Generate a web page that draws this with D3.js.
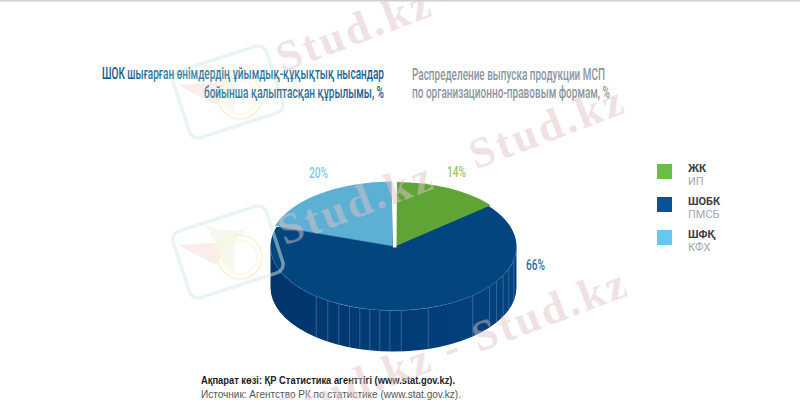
<!DOCTYPE html>
<html><head><meta charset="utf-8">
<script src="https://cdn.jsdelivr.net/npm/d3@7"></script>
<style>html,body{margin:0;padding:0;background:#fff}svg{display:block}</style>
</head><body><svg id="c" width="800" height="400"></svg>
<script>
const sharesKz = ["ЖК","ШОБК","ШФҚ"];
const sharesRu = ["ИП","ПМСБ","КФХ"];
const values = [14,66,20];
const valueLabels = ["14%","66%","20%"];
const topColors = ["#5fa536","#03457f","#5cb0d3"];
const labelColors = ["#9cc865","#2f6ea3","#7ccbea"];
const legendColors = ["#6cbd45","#0a5199","#67c8ee"];
const ribAngles = [218.9,212.3,206.4,201,195.9,191.1,186.4,181.7,176.4,163.6,139.9,128.7,123.2,116.9,110.4,102];
const titleKz = ["ШОК шығарған өнімдердің ұйымдық-құқықтық нысандар","бойынша қалыптасқан құрылымы, %"];
const titleRu = ["Распределение выпуска продукции МСП","по организационно-правовым формам, %"];
const sourceKz = "Ақпарат көзі: ҚР Статистика агенттігі (www.stat.gov.kz).";
const sourceRu = "Источник: Агентство РК по статистике (www.stat.gov.kz).";
const watermarks = ["Stud.kz - Stud.kz","Stud.kz","Stud.kz","Stud.kz - Stud.kz"];

const svg = d3.select("#c");
svg.append("rect").attr("width",800).attr("height",1.5).attr("fill","#cfcfcf");

const defs = svg.append("defs");
const g1 = defs.append("linearGradient").attr("id","side");
g1.append("stop").attr("offset","0").attr("stop-color","#02356a");
g1.append("stop").attr("offset","0.45").attr("stop-color","#023b76");
g1.append("stop").attr("offset","1").attr("stop-color","#03427e");
const g2 = defs.append("linearGradient").attr("id","titleGrad").attr("gradientUnits","userSpaceOnUse")
  .attr("x1",102).attr("x2",384).attr("y1",0).attr("y2",0);
[["0","#0f5289"],["0.3","#3f86aa"],["0.55","#35799f"],["1","#165b90"]].forEach(s=>g2.append("stop").attr("offset",s[0]).attr("stop-color",s[1]));

// pie
const cx=393.5, cy=246.5, rx=123, ry=64, depth=41;
const pie = d3.pie().sort(null).value(d=>d)(values);
const arc = d3.arc().innerRadius(0).outerRadius(rx);
const yr = ry/rx;
const pt = (deg,dy=0)=>{const a=deg*Math.PI/180;return [cx+rx*Math.sin(a),cy-ry*Math.cos(a)+dy]};

const sideStr = `M${cx+rx},${cy}L${cx+rx},${cy+depth}A${rx},${ry} 0 0 1 ${cx-rx},${cy+depth}L${cx-rx},${cy}A${rx},${ry} 0 0 0 ${cx+rx},${cy}Z`;
svg.append("path").attr("d",sideStr).attr("fill","url(#side)");
svg.append("g").selectAll("line").data(ribAngles).join("line")
  .attr("x1",d=>pt(d)[0]).attr("y1",d=>pt(d)[1])
  .attr("x2",d=>pt(d,depth)[0]).attr("y2",d=>pt(d,depth)[1])
  .attr("stroke","#5f8db8").attr("stroke-width",0.7).attr("opacity",0.75);

const face = svg.append("g").attr("transform",`translate(${cx},${cy}) scale(1,${yr})`);
face.append("path").attr("d",arc(pie[2])).attr("fill","#3f8cae").attr("transform",`translate(0,${3.5/yr})`);
face.append("path").attr("d",arc(pie[0])).attr("fill","#4f8f2c").attr("transform",`translate(0,${2.5/yr})`);
face.append("path").attr("d",arc(pie[1])).attr("fill",topColors[1]);
const lift=[[2.5,-0.5],[0,0],[-1.5,-1]];
[0,2].forEach(i=>{
  face.append("path").attr("d",arc(pie[i])).attr("fill",topColors[i])
    .attr("transform",`translate(${lift[i][0]},${lift[i][1]/yr})`);
});
svg.append("path").attr("d",`M${cx-2},${cy-ry-2}L${cx+3.5},${cy-ry-2}L${cx+3},${cy+1}L${cx-0.5},${cy+1}Z`).attr("fill","#fff");
svg.append("path").attr("d",`M${cx+rx},${cy}A${rx},${ry} 0 0 1 ${cx-rx},${cy}`).attr("fill","none").attr("stroke","#4d7fae").attr("stroke-width",0.6).attr("opacity",0.6);

// watermark logos, laid over the pie's left edge
const logoAt=[[228,92],[228,252]];
logoAt.forEach(p=>{
  const g=svg.append("g").attr("transform",`translate(${p[0]},${p[1]})`).attr("opacity",0.5);
  g.append("rect").attr("x",-49).attr("y",-35).attr("width",98).attr("height",70).attr("rx",9).attr("fill","none").attr("stroke","#d3ece4").attr("stroke-width",3.5).attr("transform","rotate(-18)");
  g.append("path").attr("d","M-50,-7L4,-10L-12,13Z").attr("fill","#f8ddd4");
  g.append("path").attr("d","M-23,-28C-8,-20 8,-22 18,-22C6,-16 4,-4 8,22C-6,12 -12,-10 -23,-28Z").attr("fill","#f0f3dd");
  g.append("circle").attr("cx",12).attr("cy",5).attr("r",22).attr("fill","none").attr("stroke","#efeca0").attr("stroke-width",1.6);
  g.append("circle").attr("cx",12).attr("cy",5).attr("r",17).attr("fill","none").attr("stroke","#f4f1bd").attr("stroke-width",1.2);
});

// titles
const tK = svg.append("g").attr("font-family","Roboto").attr("font-weight",500).attr("font-size",17).attr("fill","url(#titleGrad)");
[[titleKz[0],102,79,282],[titleKz[1],204,97.5,180]].forEach(d=>tK.append("text").attr("x",d[1]).attr("y",d[2]).attr("textLength",d[3]).attr("lengthAdjust","spacingAndGlyphs").text(d[0]));
const tR = svg.append("g").attr("font-family","Roboto").attr("font-weight",500).attr("font-size",17).attr("fill","#8b969e");
[[titleRu[0],412,79.5,193],[titleRu[1],412,97.5,198]].forEach(d=>tR.append("text").attr("x",d[1]).attr("y",d[2]).attr("textLength",d[3]).attr("lengthAdjust","spacingAndGlyphs").text(d[0]));

// value labels
const lab=[[447,176.5,19],[526,270,19],[309,178,19]];
svg.append("g").attr("font-family","Roboto").attr("font-weight",500).attr("font-size",15.5).selectAll("text").data(valueLabels).join("text")
  .attr("x",(d,i)=>lab[i][0]).attr("y",(d,i)=>lab[i][1]).attr("textLength",(d,i)=>lab[i][2]).attr("lengthAdjust","spacingAndGlyphs")
  .attr("fill",(d,i)=>labelColors[i]).text(d=>d);

// legend
const yL = d3.scalePoint().domain(sharesKz).range([164,230]);
const leg = svg.append("g").selectAll("g").data(sharesKz).join("g");
leg.append("rect").attr("x",657).attr("y",d=>yL(d)).attr("width",15).attr("height",15).attr("fill",(d,i)=>legendColors[i]);
leg.append("text").attr("x",688).attr("y",d=>yL(d)+7.5).attr("font-family","Roboto").attr("font-weight",700).attr("font-size",11).attr("fill","#3a3f44").text(d=>d);
leg.append("text").attr("x",688).attr("y",d=>yL(d)+21).attr("font-family","Roboto").attr("font-size",11).attr("fill","#a4a8ab").text((d,i)=>sharesRu[i]);

// source
svg.append("text").attr("x",201).attr("y",384).attr("font-family","Liberation Sans").attr("font-weight",700).attr("font-size",11).attr("fill","#1c1c1c").attr("textLength",254).attr("lengthAdjust","spacingAndGlyphs").text(sourceKz);
svg.append("text").attr("x",201).attr("y",398).attr("font-family","Liberation Sans").attr("font-size",11).attr("fill","#555").attr("textLength",260).attr("lengthAdjust","spacingAndGlyphs").text(sourceRu);

// watermark text
const wmAt=[[283,73],[476,170],[285,246],[283,428]];
svg.append("g").attr("font-family","Liberation Serif").attr("font-weight",700).attr("font-size",44).attr("fill","#e0c3c6").attr("opacity",0.5)
  .selectAll("text").data(watermarks).join("text")
  .attr("transform",(d,i)=>`translate(${wmAt[i][0]},${wmAt[i][1]}) rotate(-21)`).attr("letter-spacing",3).text(d=>d);
</script></body></html>
